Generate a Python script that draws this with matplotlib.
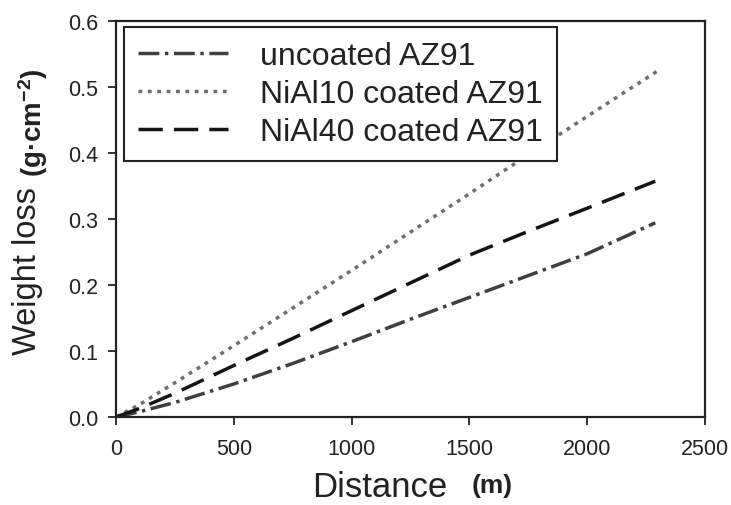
import numpy as np
import matplotlib
matplotlib.use('Agg')
import matplotlib.pyplot as plt

plt.rcParams['font.family'] = ['Liberation Sans', 'DejaVu Sans']
plt.rcParams['mathtext.default'] = 'regular'

# data
distance = [0, 100, 250, 500, 750, 1000, 1250, 1500, 1750, 2000, 2290]
uncoated = [0, 0.008, 0.022, 0.050, 0.081, 0.114, 0.148, 0.181, 0.214, 0.247, 0.294]
nial10_x = [0, 100, 250, 500, 750, 1000, 1250, 1500, 1750, 2000, 2300]
nial10 = [0, 0.019, 0.052, 0.108, 0.165, 0.222, 0.280, 0.338, 0.397, 0.455, 0.524]
nial40 = [0, 0.013, 0.036, 0.078, 0.119, 0.161, 0.203, 0.245, 0.281, 0.316, 0.357]
labels = ['uncoated AZ91', 'NiAl10 coated AZ91', 'NiAl40 coated AZ91']

fig = plt.figure(figsize=(7.31, 5.06), dpi=100)
ax = fig.add_axes([0.159, 0.174, 0.805, 0.783])

ax.plot(distance, uncoated, color='#404040', lw=2.5, dashes=(6, 1.6, 1, 1.6), label=labels[0])
ax.plot(nial10_x, nial10, color='#6e6e6e', lw=2.5, dashes=(1.1, 1.6), label=labels[1])
ax.plot(distance, nial40, color='#151515', lw=2.5, dashes=(7, 3.2), label=labels[2])

ax.set_xlim(0, 2500)
ax.set_ylim(0, 0.6)
ax.set_xticks([0, 500, 1000, 1500, 2000, 2500])
ax.set_yticks([0, 0.1, 0.2, 0.3, 0.4, 0.5, 0.6])
ax.set_yticklabels(['0.0', '0.1', '0.2', '0.3', '0.4', '0.5', '0.6'])
ax.tick_params(direction='out', length=6, width=1.3, labelsize=15.5, colors='#222222')
ax.tick_params(axis='x', pad=9)
ax.tick_params(axis='y', pad=7)
for s in ax.spines.values():
    s.set_linewidth(1.6)
    s.set_color('#222222')

leg = ax.legend(loc='upper left', bbox_to_anchor=(0.013, 0.985), fontsize=23,
                handlelength=2.8, handletextpad=1.0, labelspacing=0.25,
                borderpad=0.45, fancybox=False, framealpha=1, borderaxespad=0)
leg.get_frame().set_edgecolor('#222222')
leg.get_frame().set_linewidth(1.5)
for t in leg.get_texts():
    t.set_color('#222222')

# axis titles in two pieces, like the original
fig.text(0.520, 0.018, 'Distance', fontsize=25, color='#222222', ha='center', va='baseline')
fig.text(0.673, 0.040, '(m)', fontsize=19, fontweight='bold', color='#222222', ha='center', va='center')
fig.text(0.038, 0.464, 'Weight loss', fontsize=23.5, color='#222222', rotation=90, ha='center', va='center')
fig.text(0.045, 0.757, '(g·cm$^{-2}$)', fontsize=20, fontweight='bold', color='#222222',
         rotation=90, ha='center', va='center')

fig.savefig('out.png', dpi=100)
